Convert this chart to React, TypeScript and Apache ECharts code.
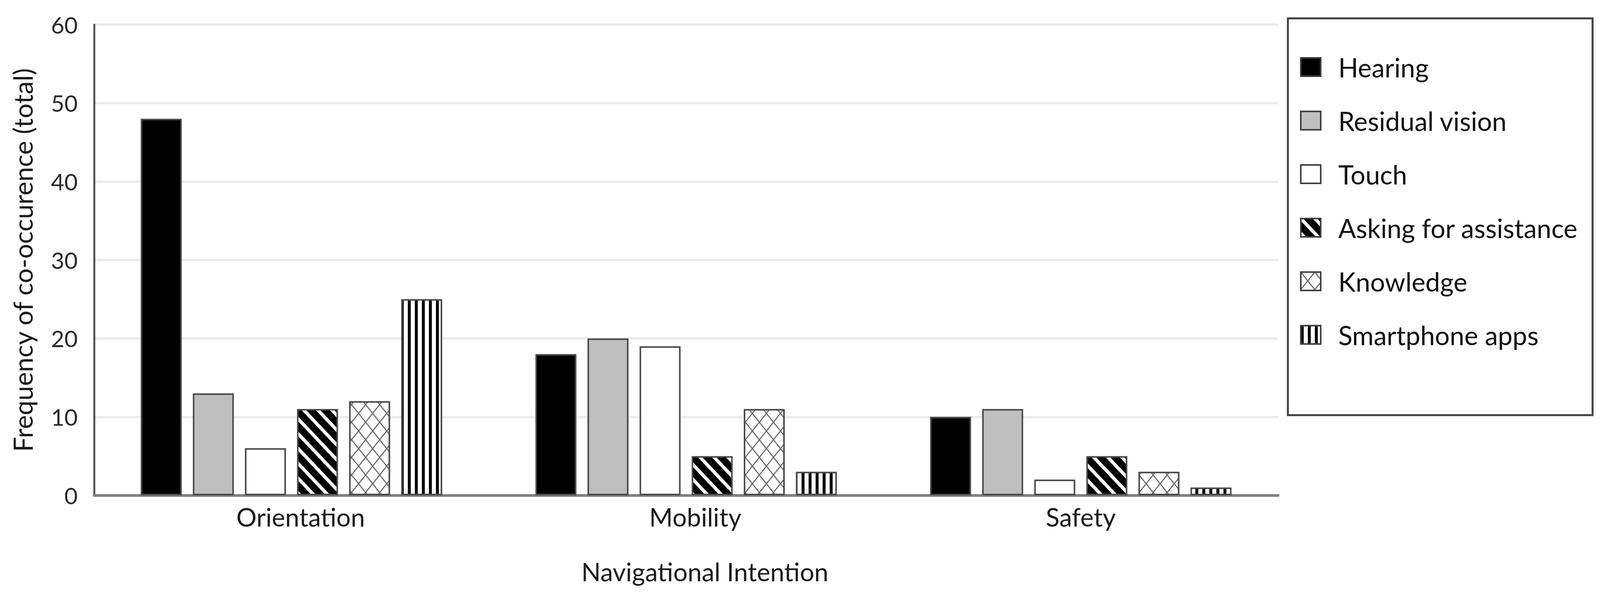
import React, { useEffect, useRef } from 'react';
import * as echarts from 'echarts';

// ---------- data ----------
const categories = ['Orientation', 'Mobility', 'Safety'];
const seriesNames = ['Hearing', 'Residual vision', 'Touch', 'Asking for assistance', 'Knowledge', 'Smartphone apps'];
const hearing = [48, 18, 10];
const residualVision = [13, 20, 11];
const touch = [6, 19, 2];
const askingForAssistance = [11, 5, 5];
const knowledge = [12, 11, 3];
const smartphoneApps = [25, 3, 1];
const yMin = 0;
const yMax = 60;
const yStep = 10;
const yAxisTitle = 'Frequency of co-occurence (total)';
const xAxisTitle = 'Navigational Intention';

const seriesValues = [hearing, residualVision, touch, askingForAssistance, knowledge, smartphoneApps];

// ---------- patterns ----------
function makePattern(w: number, h: number, bg: string, draw: (ctx: CanvasRenderingContext2D, w: number, h: number) => void) {
  const c = document.createElement('canvas');
  c.width = w;
  c.height = h;
  const ctx = c.getContext('2d') as CanvasRenderingContext2D;
  ctx.fillStyle = bg;
  ctx.fillRect(0, 0, w, h);
  for (const dx of [-w, 0, w]) {
    for (const dy of [-h, 0, h]) {
      ctx.save();
      ctx.translate(dx, dy);
      draw(ctx, w, h);
      ctx.restore();
    }
  }
  return { image: c, repeat: 'repeat', imageWidth: w, imageHeight: h } as any;
}

function buildFills(s: number) {
  const diag = makePattern(Math.round(38 * s), Math.round(40 * s), '#000000', (ctx, w, h) => {
    ctx.strokeStyle = '#ffffff';
    ctx.lineWidth = 9 * s;
    ctx.beginPath();
    ctx.moveTo(0, 0);
    ctx.lineTo(w, h);
    ctx.stroke();
  });
  const cross = makePattern(Math.round(38 * s), Math.round(48 * s), '#ffffff', (ctx, w, h) => {
    ctx.strokeStyle = '#6a6a6a';
    ctx.lineWidth = 3 * s;
    ctx.beginPath();
    ctx.moveTo(0, 0);
    ctx.lineTo(w, h);
    ctx.moveTo(w, 0);
    ctx.lineTo(0, h);
    ctx.stroke();
  });
  const vert = makePattern(Math.round(19 * s), 10, '#ffffff', (ctx, w, h) => {
    ctx.fillStyle = '#000000';
    ctx.fillRect(0, 0, 8 * s, h);
  });
  return ['#000000', '#bfbfbf', '#ffffff', diag, cross, vert];
}

function buildOption(W: number, H: number) {
  const sx = W / 4360;
  const sy = H / 1540;
  const s = Math.min(sx, sy);
  const X = (v: number) => Math.round(v * sx);
  const Y = (v: number) => Math.round(v * sy);
  const F = (v: number) => Math.round(v * s);
  const fills = buildFills(s);
  const font = 'Lato';
  const legendFont = F(71);
  const legendItemH = F(68);
  const iconW = F(54);
  const iconH = F(50);

  return {
    animation: false,
    backgroundColor: '#ffffff',
    textStyle: { fontFamily: font },
    grid: { left: X(257), right: W - X(3483), top: Y(63), bottom: H - Y(1267), containLabel: false },
    legend: {
      orient: 'vertical',
      left: X(3543),
      top: Y(170) - Math.round(legendItemH / 2),
      padding: 0,
      itemWidth: iconW,
      itemHeight: iconH,
      itemGap: Y(134) - legendItemH,
      icon: 'rect',
      data: seriesNames,
      selectedMode: false,
      itemStyle: { borderColor: '#404040', borderWidth: F(4) },
      textStyle: {
        fontFamily: font,
        fontSize: legendFont,
        color: '#111111',
        lineHeight: legendItemH,
        padding: [0, 0, 0, X(3645) - X(3543) - iconW - 5],
      },
    },
    graphic: [
      {
        type: 'rect',
        shape: { x: X(3510), y: Y(47), width: X(4340) - X(3510), height: Y(1062) - Y(47) },
        style: { fill: 'none', stroke: '#404040', lineWidth: F(5) },
        z: 10,
      },
    ],
    xAxis: {
      type: 'category',
      data: categories,
      axisLine: { show: true, lineStyle: { color: '#808080', width: F(7) } },
      axisTick: { show: false },
      axisLabel: {
        fontFamily: font,
        fontSize: F(69),
        color: '#1a1a1a',
        margin: Y(22),
        formatter: (v: string, i: number) => (i < 2 ? `{s|${v}}` : v),
        rich: { s: { fontFamily: font, fontSize: F(69), color: '#1a1a1a', padding: [0, 0, 0, X(50)] } },
      },
      splitLine: { show: false },
      name: xAxisTitle,
      nameLocation: 'middle',
      nameGap: Y(162),
      nameTextStyle: { fontFamily: font, fontSize: F(69), color: '#1a1a1a', padding: [0, 0, 0, X(102)] },
    },
    yAxis: {
      type: 'value',
      min: yMin,
      max: yMax,
      interval: yStep,
      axisLine: { show: true, lineStyle: { color: '#555555', width: F(5) } },
      axisTick: { show: false },
      axisLabel: { fontFamily: font, fontSize: F(63), color: '#2a2a2a', margin: X(45) },
      splitLine: { show: true, lineStyle: { color: '#ebebeb', width: F(6) } },
      name: yAxisTitle,
      nameLocation: 'middle',
      nameGap: X(160),
      nameTextStyle: { fontFamily: font, fontSize: F(71), color: '#1a1a1a' },
    },
    series: seriesNames.map((name, i) => ({
      name,
      type: 'bar',
      data: seriesValues[i],
      barWidth: X(112),
      barGap: '27%',
      itemStyle: { color: fills[i], borderColor: '#4a4a4a', borderWidth: F(4) },
      emphasis: { disabled: true },
    })),
  };
}

export default function App() {
  const ref = useRef<HTMLDivElement>(null);

  useEffect(() => {
    if (!ref.current) return;
    const chart = echarts.init(ref.current, undefined, { renderer: 'svg' });
    const W = chart.getWidth();
    const H = chart.getHeight();
    chart.setOption(buildOption(W, H) as any);
    return () => chart.dispose();
  }, []);

  return (
    <div
      ref={ref}
      style={{ position: 'fixed', left: 0, top: 0, width: '100vw', height: '100vh', background: '#ffffff' }}
    />
  );
}
